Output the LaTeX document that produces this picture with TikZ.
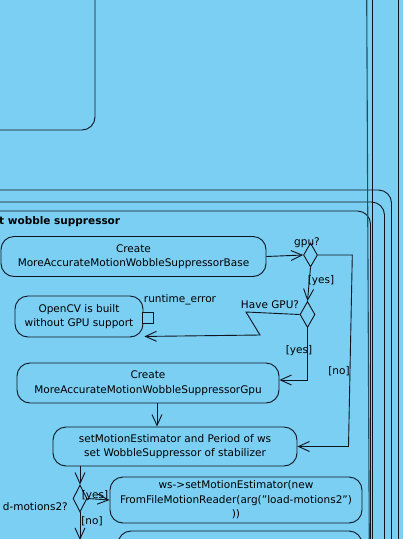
\documentclass[tikz,border=0pt]{standalone}
\usepackage{fontspec}
\setmainfont{DejaVu Sans}
\usetikzlibrary{shapes.geometric,arrows.meta}
\definecolor{bgc}{RGB}{122,207,243}
\definecolor{ln}{RGB}{15,20,30}
\definecolor{teal}{RGB}{35,80,100}
\tikzset{
  txt/.style={font=\fontsize{10.5}{14.5}\selectfont, inner sep=0pt, align=center},
  act/.style={txt, draw=ln, line width=0.9pt, rounded corners=13pt},
  dec/.style={diamond, draw=ln, line width=0.9pt, inner sep=0pt},
  arr/.style={draw=ln, line width=0.9pt, -{Straight Barb[length=11pt,width=10pt]}},
  edge/.style={draw=ln, line width=0.9pt},
  frame/.style={draw=ln, line width=0.9pt, rounded corners=13pt},
}
\begin{document}
\begin{tikzpicture}[x=1pt,y=-1pt]
\useasboundingbox (0,0) rectangle (403,539);
\fill[bgc] (0,0) rectangle (403,539);
\clip (0,0) rectangle (403,539);
% outer structures
\draw[frame] (-20,130) -- (95,130) -- (95,-20);
\draw[frame] (-20,190) -- (391.5,190) -- (391.5,560);
\draw[frame] (-20,202) -- (384.5,202) -- (384.5,560);
\draw[frame] (-20,211) -- (370.5,211) -- (370.5,560);
\draw[teal, line width=1.1pt] (366.7,-5) -- (369.3,545);
\draw[ln, line width=0.8pt] (372.5,-5) -- (372.5,545);
\draw[ln, line width=0.9pt] (398,-5) -- (398,545);
\node[txt, font=\fontsize{10.5}{14.5}\selectfont\bfseries, anchor=west] (title) at (-1,222) {t wobble suppressor};
% nodes
\node[act, minimum width=265pt, minimum height=40pt] (base) at (133.5,256.5) {Create\\MoreAccurateMotionWobbleSuppressorBase};
\node[dec, minimum width=14pt, minimum height=24pt] (gpu) at (310.5,255) {};
\node[dec, minimum width=15pt, minimum height=26pt] (have) at (307.5,314.5) {};
\node[act, minimum width=128pt, minimum height=41pt] (opencv) at (79,316.5) {OpenCV is built\\without GPU support};
\node[draw=ln, line width=0.9pt, fill=bgc, minimum size=11pt, inner sep=0pt] (pinbox) at (147.5,317.5) {};
\node[act, minimum width=262pt, minimum height=40pt] (gpubox) at (148,383) {Create\\MoreAccurateMotionWobbleSuppressorGpu};
\node[act, minimum width=244pt, minimum height=39pt] (setbox) at (175,446.5) {setMotionEstimator and Period of ws\\set WobbleSuppressor of stabilizer};
\node[dec, minimum width=14pt, minimum height=27pt] (ld) at (80,498.5) {};
\node[act, minimum width=252pt, minimum height=46pt] (wsbox) at (236,500) {ws->setMotionEstimator(new\\FromFileMotionReader(arg("load-motions2")\\))};
\node[act, minimum width=244pt, minimum height=60pt] (nextbox) at (240,561) {};
\coordinate (ldend) at (80,540);
% labels
\node[txt] (lgpu) at (307,243) {gpu?};
\node[txt] (lyes1) at (321,281) {[yes]};
\node[txt] (lhave) at (270,305) {Have GPU?};
\node[txt] (lrt) at (180,300) {runtime\_error};
\node[txt] (lyes2) at (299,351) {[yes]};
\node[txt] (lno1) at (339,371) {[no]};
\node[txt] (lyes3) at (95,496) {[yes]};
\node[txt] (lno2) at (92,521) {[no]};
\node[txt, anchor=east] (lld) at (68,506.5) {d-motions2?};
% connectors
\draw[arr] (base.east) -- (gpu.west);
\draw[arr] (gpu.south) -- (have.north);
\draw[arr] (have.west) -- (246,312) -- (260,335) -- ([xshift=1pt,yshift=1pt]opencv.south east);
\draw[arr] (have.south) |- ([yshift=3pt]gpubox.east);
\draw[arr] (gpubox.south -| 157,0) -- (setbox.north -| 157,0);
\draw[arr] (gpu.east) -- (352.3,255) -- (348.5,446.5) -- (setbox.east);
\draw[arr] (setbox.south -| 80,0) -- (ld.north);
\draw[arr] (ld.east) -- (wsbox.west);
\draw[arr] (ld.south) -- (ldend);
\end{tikzpicture}
\end{document}
